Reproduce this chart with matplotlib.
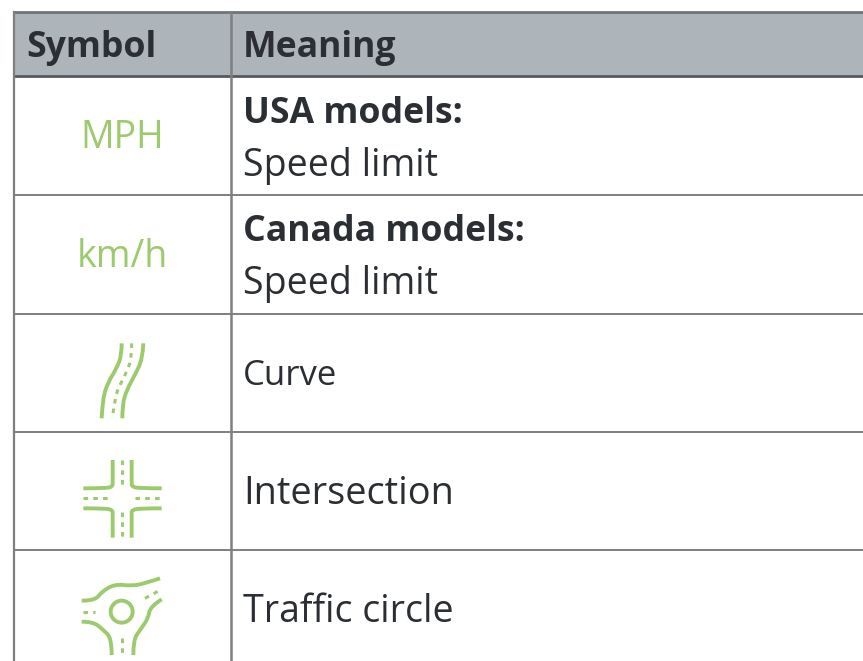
import matplotlib
matplotlib.use("Agg")
import matplotlib.pyplot as plt
from matplotlib.patches import Rectangle, Circle, PathPatch
from matplotlib.path import Path

# table content
header = ["Symbol", "Meaning"]
symbol_text = ["MPH", "km/h"]
bold_lines = ["USA models:", "Canada models:"]
plain_lines = ["Speed limit", "Speed limit"]
single_rows = ["Curve", "Intersection", "Traffic circle"]
single_sizes = [25, 27.3, 27]

# table layout, in image pixels
left = 14
col_sep = 231
top = 12
header_bottom = 76
row_lines = [195, 314, 432, 550]

GREEN = "#9ccb6e"
GREY = "#7d7f80"
TEXT = "#2b2f33"

# icon outlines (zoomed crop coords, 3x)
curve_left = [(185, 55), (185, 90), (170, 130), (145, 170), (128, 220), (125, 280)]
curve_right = [(250, 55), (248, 100), (225, 150), (200, 195), (187, 240), (187, 280)]
curve_mid = [(215, 55), (215, 100), (200, 140), (180, 180), (165, 215), (157, 280)]

cross_solid = [
    [(70, 130), (135, 130), (158, 125), (158, 110), (158, 45)],
    [(305, 130), (240, 130), (215, 125), (215, 110), (215, 45)],
    [(70, 190), (135, 190), (158, 195), (158, 210), (158, 278)],
    [(305, 190), (240, 190), (215, 195), (215, 210), (215, 278)],
]
cross_dash = [
    [(70, 160), (155, 160)],
    [(225, 160), (305, 160)],
    [(187, 45), (187, 125)],
    [(187, 200), (187, 278)],
]

circle_solid = [
    [(65, 122), (105, 122), (125, 95), (165, 72), (215, 78), (255, 70), (300, 55)],
    [(305, 118), (270, 140), (265, 175), (240, 210), (220, 240), (220, 285)],
    [(65, 185), (100, 185), (130, 210), (155, 235), (155, 285)],
]
circle_dash = [
    [(255, 115), (305, 88)],
    [(70, 155), (105, 155)],
    [(187, 235), (187, 285)],
]


def crop_line(ax, pts, x0, y0, dashed=False):
    # crop coords back to image pixels, rounded through midpoints
    p = [(x0 + a / 3, y0 + b / 3) for a, b in pts]
    verts = [p[0]]
    codes = [Path.MOVETO]
    for i in range(1, len(p) - 1):
        end = p[i + 1] if i == len(p) - 2 else ((p[i][0] + p[i + 1][0]) / 2, (p[i][1] + p[i + 1][1]) / 2)
        verts += [p[i], end]
        codes += [Path.CURVE3, Path.CURVE3]
    if len(p) == 2:
        verts.append(p[1])
        codes.append(Path.LINETO)
    patch = PathPatch(Path(verts, codes), fill=False, ec=GREEN, capstyle="butt")
    if dashed:
        patch.set_linewidth(2.2)
        patch.set_linestyle((0, (1.5, 1.7)))
    else:
        patch.set_linewidth(2.8)
    ax.add_patch(patch)


plt.rcParams["font.family"] = ["Open Sans", "DejaVu Sans"]

fig = plt.figure(figsize=(8.63, 6.61), dpi=100)
ax = fig.add_axes([0, 0, 1, 1])
ax.set_xlim(0, 863)
ax.set_ylim(661, 0)
ax.axis("off")

# header band
ax.add_patch(Rectangle((left, top), 863 - left, header_bottom - top, color="#adb5ba", lw=0))

# grid
ax.plot([left, 863], [top, top], color="#6f7476", lw=2)
ax.plot([left, 863], [header_bottom, header_bottom], color="#55595b", lw=2)
for y in row_lines:
    ax.plot([left, 863], [y, y], color=GREY, lw=1.4)
ax.plot([left, left], [top, 661], color=GREY, lw=1.6)
ax.plot([col_sep, col_sep], [top, 661], color=GREY, lw=1.8)

BOLD = 25.7
PLAIN = 27

# header text
ax.text(26, 48, header[0], fontsize=BOLD, fontweight="bold", color=TEXT, va="center")
ax.text(243, 48, header[1], fontsize=BOLD, fontweight="bold", color=TEXT, va="center")

# speed limit rows
ax.text(122, 138, symbol_text[0], fontsize=PLAIN, color=GREEN, ha="center", va="center")
ax.text(122, 257, symbol_text[1], fontsize=PLAIN, color=GREEN, ha="center", va="center")
ax.text(243, 114, bold_lines[0], fontsize=BOLD, fontweight="bold", color=TEXT, va="center")
ax.text(243, 166, plain_lines[0], fontsize=PLAIN, color=TEXT, va="center")
ax.text(243, 232, bold_lines[1], fontsize=BOLD, fontweight="bold", color=TEXT, va="center")
ax.text(243, 284, plain_lines[1], fontsize=PLAIN, color=TEXT, va="center")

# single line rows
for label, y, size in zip(single_rows, [376, 494, 612], single_sizes):
    ax.text(243, y, label, fontsize=size, color=TEXT, va="center")

# curve icon
crop_line(ax, curve_left, 60, 325)
crop_line(ax, curve_right, 60, 325)
crop_line(ax, curve_mid, 60, 325, dashed=True)

# intersection icon
for pts in cross_solid:
    crop_line(ax, pts, 60, 445)
for pts in cross_dash:
    crop_line(ax, pts, 60, 445, dashed=True)

# traffic circle icon
for pts in circle_solid:
    crop_line(ax, pts, 60, 560)
for pts in circle_dash:
    crop_line(ax, pts, 60, 560, dashed=True)
ax.add_patch(Circle((60 + 185 / 3, 560 + 155 / 3), 11, fill=False, ec=GREEN, lw=2.8))

fig.savefig("out.png", dpi=100)
